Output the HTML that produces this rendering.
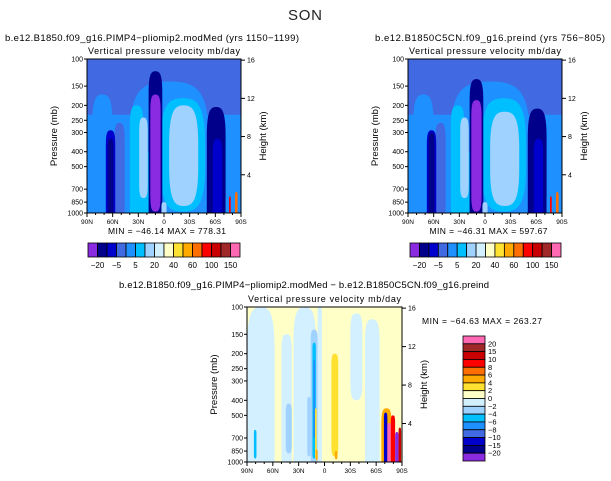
<!DOCTYPE html>
<html><head><meta charset="utf-8"><style>
body{margin:0;background:#fff;width:611px;height:481px;overflow:hidden}
svg{display:block;font-family:"Liberation Sans",sans-serif}
</style></head><body>
<svg id="s" width="611" height="481" viewBox="0 0 611 481">
<text x="305" y="20" font-size="15" text-anchor="middle" fill="#222" textLength="34">SON</text>
</svg>
<script>
const NS="http://www.w3.org/2000/svg";
const svg=document.getElementById('s');
const C1=["#8a2be2","#00008b","#0000cd","#4169e1","#1e90ff","#00bfff","#a0d2ff","#d2f0ff","#ffffc8","#ffe132","#ffaa00","#ff6e00","#ff0000","#c80000","#a02828","#ff69b4"];
const cbLabels1=["-20","-5","5","20","40","60","100","150"];
const cbLabels2=["20","15","10","8","6","4","2","0","-2","-4","-6","-8","-10","-15","-20"];
const C2=["#ff69b4","#a02828","#c80000","#ff0000","#ff6e00","#ffaa00","#ffe132","#ffffc8","#d2f0ff","#a0d2ff","#00bfff","#1e90ff","#4169e1","#0000cd","#00008b","#8a2be2"];
const pTicks=[100,150,200,250,300,400,500,700,850,1000];
const hTicks=[4,8,12,16];
const latTicks=[90,60,30,0,-30,-60,-90];
const latLabels=["90N","60N","30N","0","30S","60S","90S"];
// features: [lat1, lat2, pTop, pBottom, colorIndex]
const featA=[[90,-90,230,1000,4],[84,60,170,1000,4],[40,-52,140,1000,4],[58,46,260,1000,3],[68,57,290,1000,2],[66,59,330,1000,1],[40,24,200,1000,5],[38,8,400,1000,5],[29,19,240,800,6],[4,-48,180,980,5],[-6,-40,200,900,6],[18,2,120,1000,1],[16,4,170,980,0],[3,-3,850,1000,6],[-50,-72,205,1000,1],[-57,-68,330,1000,2],[-72,-90,750,1000,4]];
const featB=[[90,-90,230,1000,4],[84,60,170,1000,4],[40,-52,140,1000,4],[58,46,260,1000,3],[68,57,290,1000,2],[66,59,300,1000,1],[40,24,200,1000,5],[38,8,400,1000,5],[29,19,240,800,6],[4,-48,180,980,5],[-6,-40,220,900,6],[18,2,135,1000,1],[16,4,185,980,0],[3,-3,850,1000,6],[-50,-72,210,1000,1],[-57,-68,330,1000,2],[-72,-90,750,1000,4]];
const featD=[[90,58,100,1000,7],[50,38,150,1000,7],[36,10,100,1000,7],[8,3,100,1000,7],[-30,-44,110,400,7],[-47,-64,120,1000,7],[45,38,420,880,6],[20,16,380,920,6],[16,8,140,1000,6],[14,10,170,950,5],[13,11,220,700,4],[-8,-16,200,920,9],[11,9,450,950,9],[10,8,830,980,10],[-12,-15,850,960,10],[82,79,620,950,5],[-66,-78,450,1000,10],[-69,-73,480,1000,2],[-73,-77,560,1000,15],[-77,-82,500,1000,12],[-82,-86,640,1000,0],[-86,-89,600,1000,13]];
const noiseA=[[-76,-78,780,1000,12],[-83,-86,730,1000,11]];
function el(t,a,p){const e=document.createElementNS(NS,t);for(const k in a)e.setAttribute(k,a[k]);(p||svg).appendChild(e);return e;}
function txt(x,y,s,fs,anchor,p){const e=el('text',{x:x,y:y,'font-size':fs,'text-anchor':anchor||'middle',fill:'#000'},p);e.textContent=s;return e;}
function shape(xa,xb,ya,yb,bottom){
  const w=xb-xa;
  if(w>120) return 'M'+xa+' '+ya+' H'+xb+' V'+(yb+2)+' H'+xa+' Z';
  const r=w/2,cap=Math.min(w*1.6,(yb-ya)/2.5);
  let d='M'+xa+' '+(ya+cap)+' C'+xa+' '+(ya+cap*0.1)+' '+(xa+r*0.4)+' '+ya+' '+(xa+r)+' '+ya+' C'+(xb-r*0.4)+' '+ya+' '+xb+' '+(ya+cap*0.1)+' '+xb+' '+(ya+cap);
  if(bottom){d+=' L'+xb+' '+(yb+2)+' L'+xa+' '+(yb+2)+' Z';}
  else{d+=' L'+xb+' '+(yb-cap)+' C'+xb+' '+(yb-cap*0.1)+' '+(xb-r*0.4)+' '+yb+' '+(xa+r)+' '+yb+' C'+(xa+r*0.4)+' '+yb+' '+xa+' '+(yb-cap*0.1)+' '+xa+' '+(yb-cap)+' Z';}
  return d;
}
function panel(id,x0,x1,y0,y1,bg,feats,extra,pal,title,tx,ty,tl){
  const g=el('g',{});
  
  
  const X=lat=>x0+(90-lat)/180*(x1-x0);
  const Y=p=>y0+Math.log10(p/100)*(y1-y0);
  const clip=el('clipPath',{id:'c'+id},g);el('rect',{x:x0,y:y0,width:x1-x0,height:y1-y0},clip);
  const fg=el('g',{'clip-path':'url(#c'+id+')'},g);
  el('rect',{x:x0,y:y0,width:x1-x0,height:y1-y0,fill:pal[bg]},fg);
  feats.concat(extra).forEach(f=>{
    const r=el('path',{d:shape(X(f[0]),X(f[1]),Y(f[2]),Y(f[3]),f[3]>=1000),fill:pal[f[4]]},fg);
    
    
  });
  el('rect',{x:x0,y:y0,width:x1-x0,height:y1-y0,fill:'none',stroke:'#000','stroke-width':1},g);
  pTicks.forEach(p=>{el('line',{x1:x0-3,x2:x0,y1:Y(p),y2:Y(p),stroke:'#000'},g);const t=txt(x0-4,Y(p)+2.5,String(p),7,'end',g);});
  hTicks.forEach(h=>{const p=1000*Math.exp(-h/7);const y=Y(p);el('line',{x1:x1,x2:x1+4,y1:y,y2:y,stroke:'#000'},g);const t=txt(x1+6,y+2.5,String(h),7,'start',g);});
  for(let l=90;l>=-90;l-=10){el('line',{x1:X(l),x2:X(l),y1:y1,y2:y1+(l%30==0?4:2),stroke:'#000'},g);}
  latTicks.forEach((l,i)=>{const t=txt(X(l),y1+11,latLabels[i],6.5,'middle',g);});
  const yt=txt(x0-30,(y0+y1)/2,'Pressure (mb)',9.5,'middle',g);yt.setAttribute('transform','rotate(-90 '+(x0-30)+' '+(y0+y1)/2+')');
  
  const ht=el('text',{x:x1+25,y:(y0+y1)/2,'font-size':9.5,'text-anchor':'middle',transform:'rotate(-90 '+(x1+25)+' '+(y0+y1)/2+')'},g);ht.textContent='Height (km)';
  
  const vt=txt((x0+x1)/2,y0-5,'Vertical pressure velocity   mb/day',9,'middle',g);
  vt.setAttribute('textLength',x1-x0-2);
  
  const tt=txt(tx,ty,title,9.5,'middle',g);
  tt.setAttribute('textLength',tl);
  
}
function hbar(id,x0,x1,y0,y1,mm){
  const g=el('g',{});
  const w=(x1-x0)/C1.length;
  C1.forEach((c,i)=>{const r=el('rect',{x:x0+i*w,y:y0,width:w,height:y1-y0,fill:c,stroke:'#000','stroke-width':0.8},g);});
  cbLabels1.forEach((s,i)=>{const t=txt(x0+(1+2*i)*w,y1+11,s.replace('-','−'),8,'middle',g);});
  const m=txt((x0+x1)/2+3,y0-9,mm,8.5,'middle',g);m.setAttribute('textLength',118);
}
panel('panel-pimp4',87,241,59,213,3,featA,noiseA,C1,'b.e12.B1850.f09_g16.PIMP4−pliomip2.modMed (yrs 1150−1199)',152,41,294);
panel('panel-preind',408,562,59,213,3,featB,noiseA,C1,'b.e12.B1850C5CN.f09_g16.preind (yrs 756−805)',490,41,230);
hbar('colorbar-pimp4',88,240,243,257,'MIN = −46.14   MAX = 778.31');
hbar('colorbar-preind',410,561,243,257,'MIN = −46.31   MAX = 597.67');
panel('panel-difference',247,402,307,462,8,featD,[],C1,'b.e12.B1850.f09_g16.PIMP4−pliomip2.modMed − b.e12.B1850C5CN.f09_g16.preind',304,288,370);
(function(){const g=el('g',{});
 const x0=463,x1=485,y0=336,y1=461,h=(y1-y0)/C2.length;
 C2.forEach((c,i)=>{const r=el('rect',{x:x0,y:y0+i*h,width:x1-x0,height:h,fill:c,stroke:'#000','stroke-width':0.8},g);});
 cbLabels2.forEach((s,i)=>{const t=txt(x1+3,y0+(i+1)*h+2.5,s.replace('-','−'),7.5,'start',g);});
 const m=txt(422,324,'MIN = −64.63   MAX = 263.27',8.5,'start',g);m.setAttribute('textLength',120);
})();
</script>
</body></html>
